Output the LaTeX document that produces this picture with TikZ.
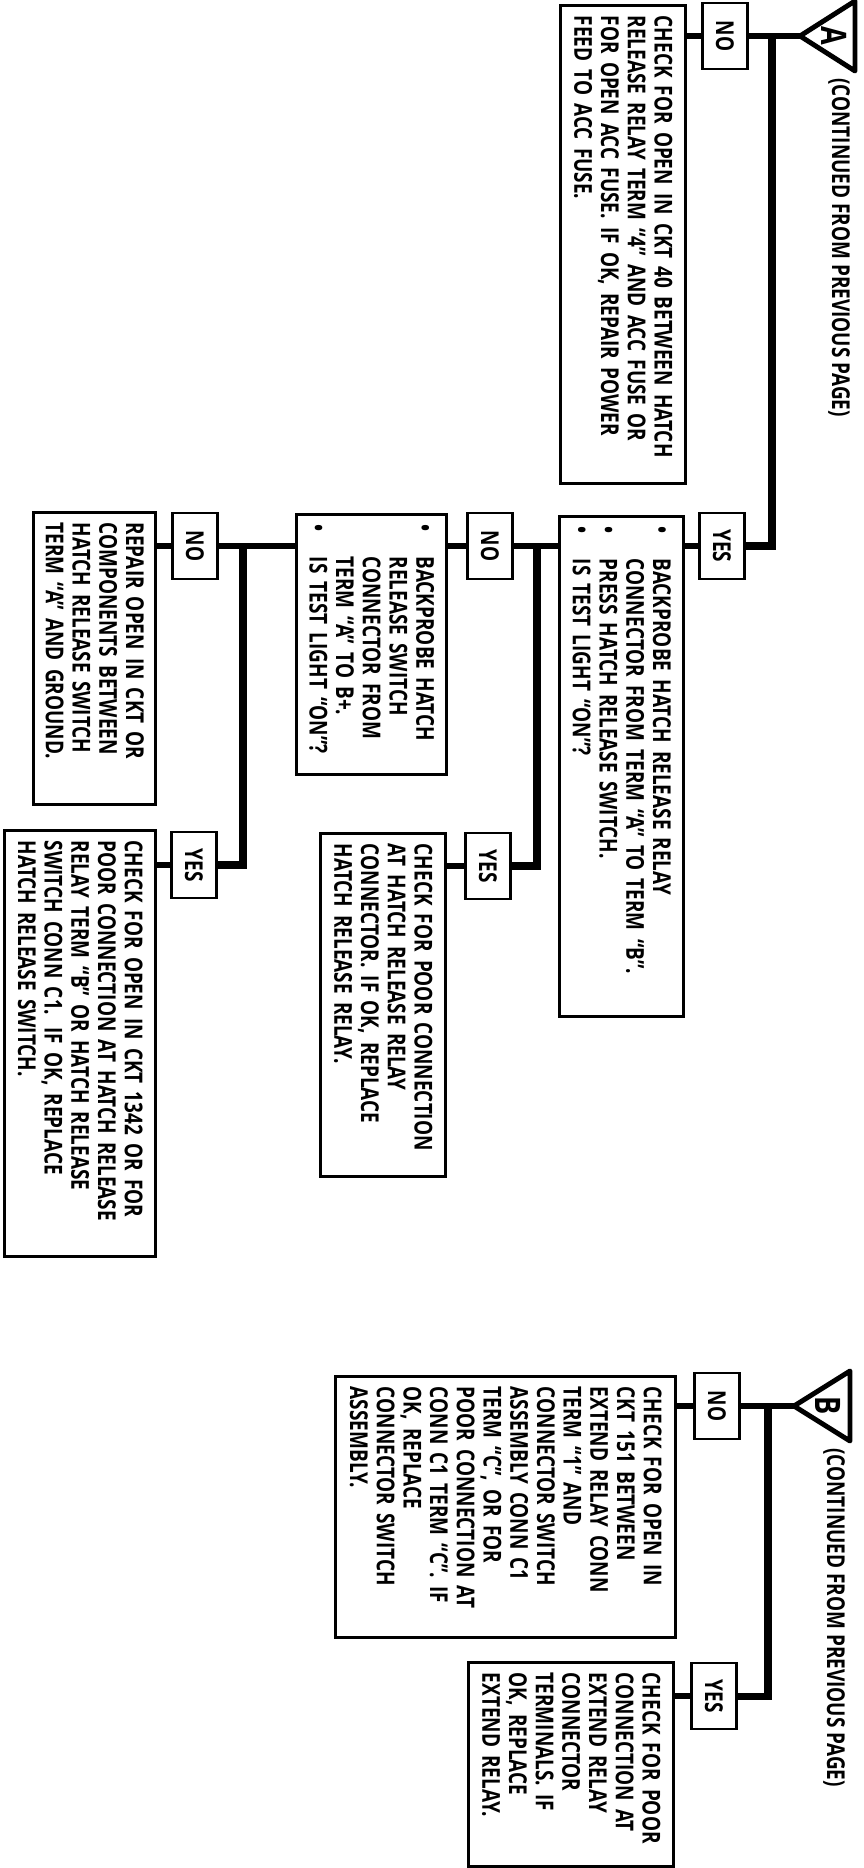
\documentclass[tikz,border=0pt]{standalone}
\usepackage{fontspec}
\setmainfont{Open Sans}[FakeStretch=0.77]
\newcommand{\bulletmark}{\makebox[1.3em][l]{\textbullet}}
\newcommand{\bulletgap}{\hspace*{1.3em}}

\begin{document}
\begin{tikzpicture}[x=0.02cm, y=-0.02cm,
  txt/.style={rotate=-90, inner sep=0pt, font=\fontsize{14}{15.2}\selectfont\bfseries},
  box/.style={draw, line width=1.5pt, rotate=-90, anchor=north west, align=left,
    inner xsep=6pt, inner ysep=3pt, font=\fontsize{14}{15.2}\selectfont\bfseries},
  tag/.style={draw, line width=1.5pt, rotate=-90, minimum width=1.32cm,
    minimum height=0.9cm, inner sep=0pt, font=\fontsize{14}{15.2}\selectfont\bfseries},
  link/.style={line width=3.4pt},
  trunk/.style={line width=4pt},
  tri/.style={line width=2.8pt, line join=round}]
  \useasboundingbox (0,0) rectangle (864,1868);

  % A: continued from previous page
  \draw[tri] (855,1) -- (800,36) -- (855,71) -- cycle;
  \coordinate (apexA) at (800,36);
  \coordinate (jA) at (772,36);
  \node[txt, font=\fontsize{20}{20}\selectfont\bfseries] (letA) at (834,36) {A};
  \node[txt, anchor=west] (contA) at (839,78) {(CONTINUED FROM PREVIOUS PAGE)};
  \node[tag] (noA) at (725,36) {NO};
  \node[box, text width=9.14cm, minimum height=2.5cm] (chkA) at (687,4)
    {CHECK FOR OPEN IN CKT 40 BETWEEN HATCH\\RELEASE RELAY TERM “4” AND ACC FUSE OR\\FOR OPEN ACC FUSE. IF OK, REPAIR POWER\\FEED TO ACC FUSE.};
  \node[tag] (yesA) at (722,546) {YES};
  \node[box, text width=9.58cm, minimum height=2.48cm] (chkOne) at (685,515)
    {\bulletmark BACKPROBE HATCH RELEASE RELAY\\\bulletgap CONNECTOR FROM TERM “A” TO TERM “B”.\\\bulletmark PRESS HATCH RELEASE SWITCH.\\\bulletmark IS TEST LIGHT “ON”?};

  % relay test: no / yes
  \coordinate (jTwo) at (537,546);
  \node[tag] (noTwo) at (490,546) {NO};
  \node[box, text width=4.78cm, minimum height=3.0cm] (chkTwo) at (448,513)
    {\bulletmark BACKPROBE HATCH\\\bulletgap RELEASE SWITCH\\\bulletgap CONNECTOR FROM\\\bulletgap TERM “A” TO B+.\\\bulletmark IS TEST LIGHT “ON”?};
  \node[tag] (yesTwo) at (488,866) {YES};
  \node[box, text width=6.44cm, minimum height=2.5cm] (poorRelay) at (447,832)
    {CHECK FOR POOR CONNECTION\\AT HATCH RELEASE RELAY\\CONNECTOR. IF OK, REPLACE\\HATCH RELEASE RELAY.};

  % switch test: no / yes
  \coordinate (jThree) at (243,546);
  \node[tag] (noThree) at (195,546) {NO};
  \node[box, text width=5.42cm, minimum height=2.44cm] (repair) at (157,511)
    {REPAIR OPEN IN CKT OR\\COMPONENTS BETWEEN\\HATCH RELEASE SWITCH\\TERM “A” AND GROUND.};
  \node[tag] (yesThree) at (194,865) {YES};
  \node[box, text width=8.10cm, minimum height=3.02cm] (openSw) at (157,829)
    {CHECK FOR OPEN IN CKT 1342 OR FOR\\POOR CONNECTION AT HATCH RELEASE\\RELAY TERM “B” OR HATCH RELEASE\\SWITCH CONN C1. IF OK, REPLACE\\HATCH RELEASE SWITCH.};

  % B: continued from previous page
  \draw[tri] (850,1371) -- (794,1406) -- (850,1441) -- cycle;
  \coordinate (apexB) at (794,1406);
  \coordinate (jB) at (768,1406);
  \node[txt, font=\fontsize{20}{20}\selectfont\bfseries] (letB) at (828,1406) {B};
  \node[txt, anchor=west] (contB) at (834,1448) {(CONTINUED FROM PREVIOUS PAGE)};
  \node[tag] (noB) at (717,1406) {NO};
  \node[box, text width=4.80cm, minimum height=6.8cm] (chkBno) at (677,1375)
    {CHECK FOR OPEN IN\\CKT 151 BETWEEN\\EXTEND RELAY CONN\\TERM “1” AND\\CONNECTOR SWITCH\\ASSEMBLY CONN C1\\TERM “C”, OR FOR\\POOR CONNECTION AT\\CONN C1 TERM “C”. IF\\OK, REPLACE\\CONNECTOR SWITCH\\ASSEMBLY.};
  \node[tag] (yesB) at (714,1696) {YES};
  \node[box, text width=3.66cm, minimum height=4.1cm] (chkByes) at (675,1661)
    {CHECK FOR POOR\\CONNECTION AT\\EXTEND RELAY\\CONNECTOR\\TERMINALS. IF\\OK, REPLACE\\EXTEND RELAY.};

  % connectors
  \draw[link] (apexA) -- (noA.north);
  \draw[trunk] (jA) |- (yesA.north);
  \draw[link] (noA.south) -- (noA.south -| chkA.north);
  \draw[link] (yesA.south) -- (yesA.south -| chkOne.north);
  \draw[link] (noTwo.north) -- (noTwo.north -| chkOne.south);
  \draw[trunk] (jTwo) |- (yesTwo.north);
  \draw[link] (noTwo.south) -- (noTwo.south -| chkTwo.north);
  \draw[link] (yesTwo.south) -- (yesTwo.south -| poorRelay.north);
  \draw[link] (noThree.north) -- (noThree.north -| chkTwo.south);
  \draw[trunk] (jThree) |- (yesThree.north);
  \draw[link] (noThree.south) -- (noThree.south -| repair.north);
  \draw[link] (yesThree.south) -- (yesThree.south -| openSw.north);
  \draw[link] (apexB) -- (noB.north);
  \draw[trunk] (jB) |- (yesB.north);
  \draw[link] (noB.south) -- (noB.south -| chkBno.north);
  \draw[link] (yesB.south) -- (yesB.south -| chkByes.north);
\end{tikzpicture}
\end{document}
